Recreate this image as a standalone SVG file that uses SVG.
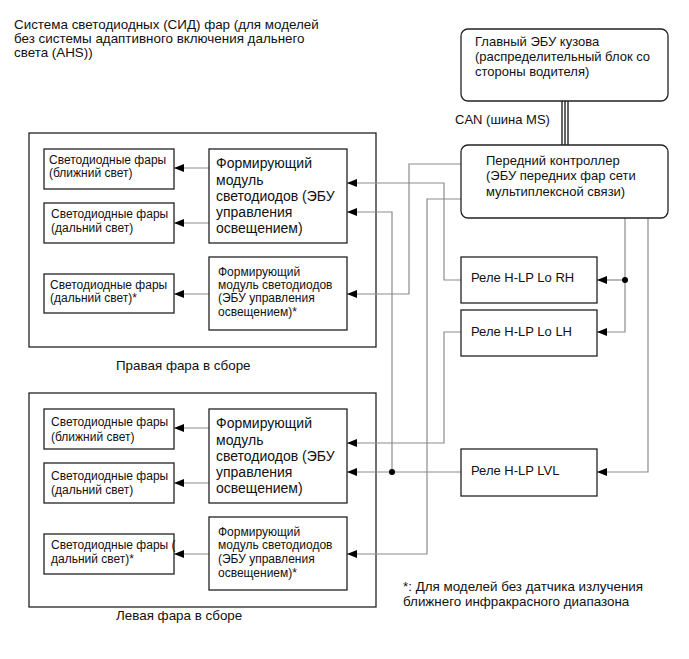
<svg xmlns="http://www.w3.org/2000/svg" width="689" height="659" viewBox="0 0 689 659">
<style>
text{font-family:"Liberation Sans",Arial,sans-serif;fill:#111}
.t13{font-size:13px}
.t13b{font-size:13.4px}
.t12{font-size:12px}
.t14{font-size:14px}
.box{fill:#fff;stroke:#222;stroke-width:1.3}
.frame{fill:none;stroke:#222;stroke-width:1.3}
.con{fill:none;stroke:#8c8c8c;stroke-width:1.2}
.can{stroke:#111;stroke-width:1.3}
.dot{fill:#000}
</style>
<defs>
<marker id="arr" viewBox="0 0 10 8" refX="10" refY="4" markerWidth="10" markerHeight="8" markerUnits="userSpaceOnUse" orient="auto">
<path d="M0,0 L10,4 L0,8 z" fill="#000"/>
</marker>
</defs>
<rect width="689" height="659" fill="#fff"/>

<g id="title">
<text class="t13b" x="14" y="29">Система светодиодных (СИД) фар (для моделей</text>
<text class="t13b" x="14" y="43">без системы адаптивного включения дальнего</text>
<text class="t13b" x="14" y="57">света (AHS))</text>
</g>

<g id="right-headlight">
<rect class="frame" x="29" y="133" width="347" height="214"/>
<text class="t13b" x="116" y="370">Правая фара в сборе</text>
</g>
<g id="left-headlight">
<rect class="frame" x="29" y="393" width="347" height="214"/>
<text class="t13b" x="116" y="620">Левая фара в сборе</text>
</g>

<g id="connectors">
<path class="con" d="M209,168 H174" marker-end="url(#arr)"/>
<path class="con" d="M209,223 H174" marker-end="url(#arr)"/>
<path class="con" d="M209,294 H174" marker-end="url(#arr)"/>
<path class="con" d="M209,428 H174" marker-end="url(#arr)"/>
<path class="con" d="M209,483 H174" marker-end="url(#arr)"/>
<path class="con" d="M209,554 H174" marker-end="url(#arr)"/>
<path class="con" d="M461,164 H409 V294 H347" marker-end="url(#arr)"/>
<path class="con" d="M461,199 H427 V554 H347" marker-end="url(#arr)"/>
<path class="con" d="M461,280 H444 V183 H347" marker-end="url(#arr)"/>
<path class="con" d="M461,332 H444 V443 H347" marker-end="url(#arr)"/>
<path class="con" d="M461,472 H347" marker-end="url(#arr)"/>
<path class="con" d="M392,472 V212 H347" marker-end="url(#arr)"/>
<path class="con" d="M625,218 V332 H597" marker-end="url(#arr)"/>
<path class="con" d="M625,280 H597" marker-end="url(#arr)"/>
<path class="con" d="M648,218 V472 H597" marker-end="url(#arr)"/>
<circle class="dot" cx="392" cy="472" r="3"/>
<circle class="dot" cx="625" cy="280" r="3"/>
<line class="can" x1="562" y1="101" x2="562" y2="145"/>
<line class="can" x1="565" y1="101" x2="565" y2="145"/>
<line class="can" x1="568" y1="101" x2="568" y2="145"/>
<text class="t13" x="455" y="124">CAN (шина MS)</text>
</g>

<g id="main-ecu">
<rect class="box" x="461" y="29" width="207" height="72" rx="7"/>
<text class="t13" x="475" y="46">Главный ЭБУ кузова</text>
<text class="t13" x="475" y="61">(распределительный блок со</text>
<text class="t13" x="475" y="76">стороны водителя)</text>
</g>

<g id="front-controller">
<rect class="box" x="461" y="145" width="207" height="73" rx="7"/>
<text class="t13" x="486" y="165">Передний контроллер</text>
<text class="t13" x="486" y="180">(ЭБУ передних фар сети</text>
<text class="t13" x="486" y="196">мультиплексной связи)</text>
</g>

<g id="relay-lo-rh">
<rect class="box" x="461" y="257" width="136" height="46"/>
<text class="t13" x="471" y="282">Реле H-LP Lo RH</text>
</g>
<g id="relay-lo-lh">
<rect class="box" x="461" y="310" width="136" height="46"/>
<text class="t13" x="471" y="336">Реле H-LP Lo LH</text>
</g>
<g id="relay-lvl">
<rect class="box" x="461" y="449" width="136" height="47"/>
<text class="t13" x="471" y="475">Реле H-LP LVL</text>
</g>

<g id="r-led-low">
<rect class="box" x="44" y="149" width="130" height="40"/>
<text class="t12" x="49" y="164">Светодиодные фары</text>
<text class="t12" x="49" y="177">(ближний свет)</text>
</g>
<g id="r-led-high">
<rect class="box" x="44" y="203" width="130" height="40"/>
<text class="t12" x="51" y="218">Светодиодные фары</text>
<text class="t12" x="51" y="232">(дальний свет)</text>
</g>
<g id="r-led-high2">
<rect class="box" x="44" y="274" width="130" height="39"/>
<text class="t12" x="50" y="289">Светодиодные фары</text>
<text class="t12" x="50" y="302">(дальний свет)*</text>
</g>
<g id="r-module1">
<rect class="box" x="209" y="149" width="138" height="94"/>
<text class="t14" x="216" y="168">Формирующий</text>
<text class="t14" x="216" y="185">модуль</text>
<text class="t14" x="216" y="201">светодиодов (ЭБУ</text>
<text class="t14" x="216" y="217">управления</text>
<text class="t14" x="216" y="233">освещением)</text>
</g>
<g id="r-module2">
<rect class="box" x="209" y="257" width="138" height="73"/>
<text class="t12" x="218" y="276">Формирующий</text>
<text class="t12" x="218" y="289">модуль светодиодов</text>
<text class="t12" x="218" y="302">(ЭБУ управления</text>
<text class="t12" x="218" y="316">освещением)*</text>
</g>

<g id="l-led-low">
<rect class="box" x="44" y="409" width="130" height="40"/>
<text class="t12" x="51" y="426">Светодиодные фары</text>
<text class="t12" x="51" y="441">(ближний свет)</text>
</g>
<g id="l-led-high">
<rect class="box" x="44" y="463" width="130" height="40"/>
<text class="t12" x="51" y="480">Светодиодные фары</text>
<text class="t12" x="51" y="494">(дальний свет)</text>
</g>
<g id="l-led-high2">
<rect class="box" x="44" y="534" width="130" height="40"/>
<text class="t12" x="51" y="549">Светодиодные фары (</text>
<text class="t12" x="51" y="563">дальний свет)*</text>
</g>
<g id="l-module1">
<rect class="box" x="209" y="409" width="138" height="94"/>
<text class="t14" x="216" y="428">Формирующий</text>
<text class="t14" x="216" y="445">модуль</text>
<text class="t14" x="216" y="461">светодиодов (ЭБУ</text>
<text class="t14" x="216" y="477">управления</text>
<text class="t14" x="216" y="493">освещением)</text>
</g>
<g id="l-module2">
<rect class="box" x="209" y="517" width="138" height="73"/>
<text class="t12" x="218" y="536">Формирующий</text>
<text class="t12" x="218" y="549">модуль светодиодов</text>
<text class="t12" x="218" y="563">(ЭБУ управления</text>
<text class="t12" x="218" y="577">освещением)*</text>
</g>

<g id="footnote">
<text class="t13b" x="403" y="591">*: Для моделей без датчика излучения</text>
<text class="t13b" x="403" y="606">ближнего инфракрасного диапазона</text>
</g>
</svg>
